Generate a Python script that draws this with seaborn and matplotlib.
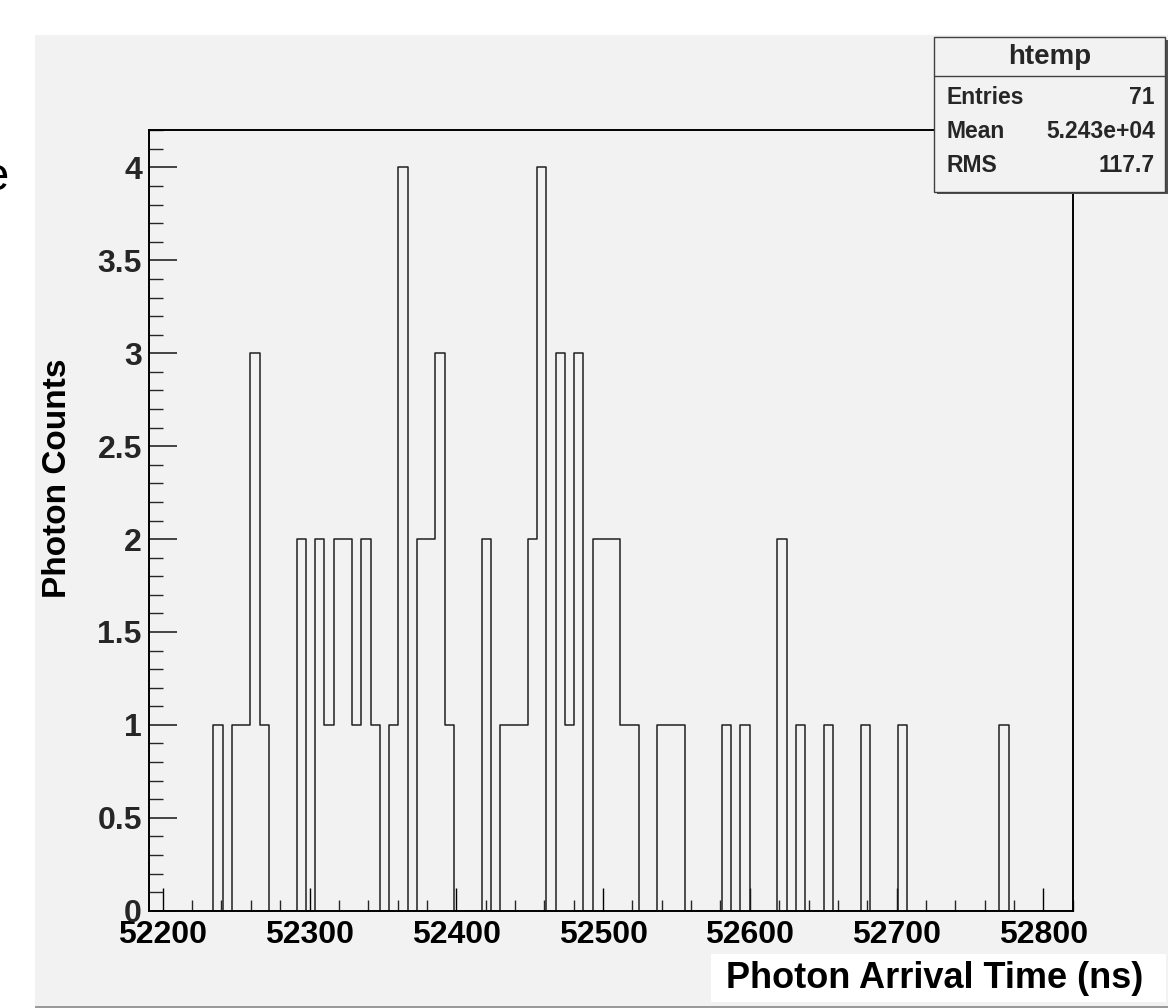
import numpy as np
import pandas as pd
import matplotlib
matplotlib.use("Agg")
import matplotlib.pyplot as plt
import seaborn as sns
from matplotlib.patches import Rectangle
from matplotlib.ticker import FixedLocator, MultipleLocator

# ---------------- data (ROOT "htemp", 100 bins) ----------------
x_min = 52190.4
x_max = 52820.4
n_bins = 100
bin_index = [7, 9, 10, 11, 12, 16, 18, 19, 20, 21, 22, 23, 24, 26, 27, 29, 30, 31, 32,
             36, 38, 39, 40, 41, 42, 44, 45, 46, 48, 49, 50, 51, 52, 55, 56, 57, 62, 64,
             68, 70, 73, 77, 81, 92]
bin_count = [1, 1, 1, 3, 1, 2, 2, 1, 2, 2, 1, 2, 1, 1, 4, 2, 2, 3, 1,
             2, 1, 1, 1, 2, 4, 3, 1, 3, 2, 2, 2, 1, 1, 1, 1, 1, 1, 1,
             2, 1, 1, 1, 1, 1]
x_ticks = [52200, 52300, 52400, 52500, 52600, 52700, 52800]
y_ticks = [0, 0.5, 1, 1.5, 2, 2.5, 3, 3.5, 4]
y_tick_labels = ["0", "0.5", "1", "1.5", "2", "2.5", "3", "3.5", "4"]
y_max = 4.2
stats_title = "htemp"
stats_names = ["Entries", "Mean", "RMS"]
stats_values = ["71", "5.243e+04", "117.7"]
x_label = "Photon Arrival Time (ns)"
y_label = "Photon Counts"

# ---------------- figure ----------------
W, H = 1168, 1008
sns.set_theme(style="ticks")
plt.rcParams["font.family"] = ["Liberation Sans", "DejaVu Sans"]
plt.rcParams["font.weight"] = "bold"

fig = plt.figure(figsize=(W / 100, H / 100), dpi=100, facecolor="white")
GRAY = "#f2f2f2"

def fx(px):
    return px / W

def fy(py):
    return 1 - py / H

# canvas background
fig.add_artist(Rectangle((fx(35), fy(1006)), fx(1168) - fx(35), fy(35) - fy(1006),
                         transform=fig.transFigure, facecolor=GRAY, edgecolor="none",
                         zorder=-10))
fig.add_artist(Rectangle((fx(35), fy(1008)), 1, fy(1005.5) - fy(1008),
                         transform=fig.transFigure, facecolor="#9a9a9a", edgecolor="none",
                         zorder=-9))

ax_l, ax_r, ax_t, ax_b = 148.7, 1073.3, 130.3, 910.7
ax = fig.add_axes([fx(ax_l), fy(ax_b), fx(ax_r) - fx(ax_l), fy(ax_t) - fy(ax_b)])
ax.set_facecolor(GRAY)

width = (x_max - x_min) / n_bins
df = pd.DataFrame({
    "time": [x_min + (i + 0.5) * width for i in bin_index],
    "count": bin_count,
})
sns.histplot(data=df, x="time", weights="count", bins=n_bins, binrange=(x_min, x_max),
             element="step", fill=False, color="#202020", linewidth=1.1, ax=ax)

ax.set_xlim(x_min, x_max)
ax.set_ylim(0, y_max)
ax.set_xlabel("")
ax.set_ylabel("")

for s in ax.spines.values():
    s.set_visible(True)
    s.set_color("black")
    s.set_linewidth(1.4)

ax.xaxis.set_major_locator(FixedLocator(x_ticks))
ax.xaxis.set_minor_locator(MultipleLocator(20))
ax.set_xticklabels([str(t) for t in x_ticks])
ax.yaxis.set_major_locator(FixedLocator(y_ticks))
ax.yaxis.set_minor_locator(MultipleLocator(0.1))
ax.set_yticklabels(y_tick_labels)

ax.tick_params(axis="x", which="major", direction="in", length=16.5, width=1.0,
               pad=7, labelsize=23, colors="black")
ax.tick_params(axis="x", which="minor", direction="in", length=8, width=1.0)
ax.tick_params(axis="y", which="major", direction="in", length=20, width=1.2,
               pad=5, labelsize=23)
ax.tick_params(axis="y", which="minor", direction="in", length=10, width=1.0)
for lab in ax.get_xticklabels() + ax.get_yticklabels():
    lab.set_fontweight("bold")

# y label
fig.text(fx(57), fy(478), y_label, rotation=90, ha="center", va="center",
         fontsize=24, fontweight="bold", color="black")

# x label with white background
fig.add_artist(Rectangle((fx(711), fy(1002)), fx(1166) - fx(711), fy(954) - fy(1002),
                         transform=fig.transFigure, facecolor="white", edgecolor="none",
                         zorder=5))
fig.text(fx(1143), fy(978), x_label, ha="right", va="center", fontsize=26,
         fontweight="bold", color="black", zorder=6)

# stats box (with shadow)
bx0, by0, bx1, by1 = 934.3, 37.3, 1165.0, 191.5
fig.add_artist(Rectangle((fx(bx0 + 2.5), fy(by1 + 2.5)), fx(bx1) - fx(bx0), fy(by0) - fy(by1),
                         transform=fig.transFigure, facecolor="#505050", edgecolor="none",
                         zorder=7))
fig.add_artist(Rectangle((fx(bx0), fy(by1)), fx(bx1) - fx(bx0), fy(by0) - fy(by1),
                         transform=fig.transFigure, facecolor=GRAY, edgecolor="#404040",
                         linewidth=1.0, zorder=8))
fig.add_artist(plt.Line2D([fx(bx0), fx(bx1)], [fy(76), fy(76)], transform=fig.transFigure,
                          color="#404040", linewidth=1.0, zorder=9))
fig.text(fx(1049.7), fy(57), stats_title, ha="center", va="center", fontsize=20,
         fontweight="bold", zorder=10)
row_y = [98, 132, 165]
for name, val, yy in zip(stats_names, stats_values, row_y):
    fig.text(fx(946.5), fy(yy), name, ha="left", va="center", fontsize=16.5,
             fontweight="bold", zorder=10)
    fig.text(fx(1155), fy(yy), val, ha="right", va="center", fontsize=16.5,
             fontweight="bold", zorder=10)

# cut-off glyph at the far left
fig.text(fx(9), fy(178), "e", ha="right", va="center", fontsize=34,
         fontweight="normal", color="black")

fig.savefig("out.png", dpi=100, facecolor="white")
